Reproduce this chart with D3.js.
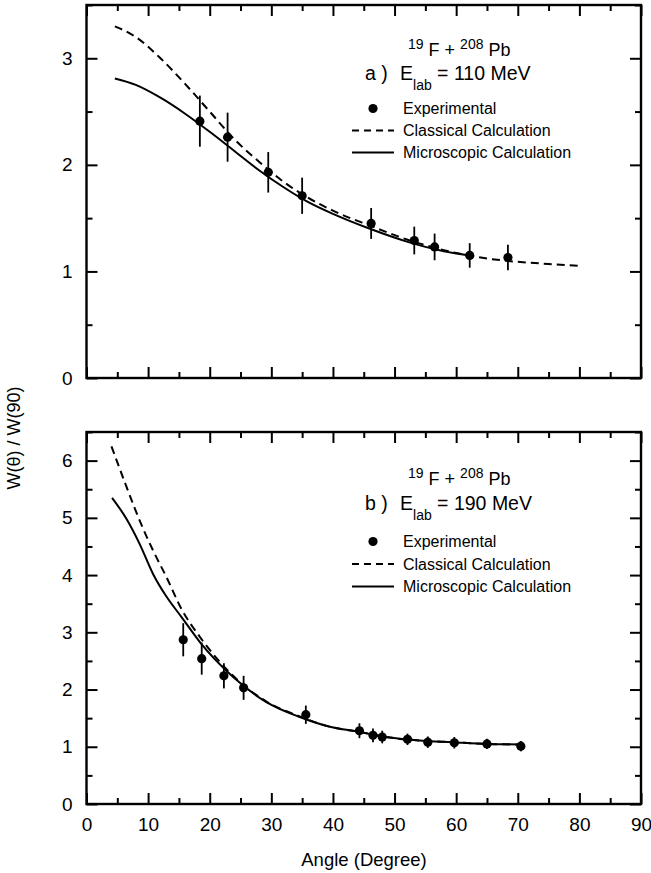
<!DOCTYPE html>
<html>
<head>
<meta charset="utf-8">
<script src="https://cdn.jsdelivr.net/npm/d3@7"></script>
<style>
  body { margin: 0; background: #fff; }
  svg text { font-family: "Liberation Sans", Arial, Helvetica, sans-serif; fill: #000; }
</style>
</head>
<body>
<script>
// panel a) E_lab = 110 MeV
const expA_angle = [18.4, 22.9, 29.5, 35.0, 46.2, 53.2, 56.5, 62.2, 68.4];
const expA_value = [2.41, 2.26, 1.93, 1.71, 1.45, 1.29, 1.23, 1.15, 1.13];
const expA_error = [0.24, 0.23, 0.19, 0.17, 0.145, 0.13, 0.125, 0.115, 0.12];

const classA_angle = [4.6, 8, 12, 16, 20, 24, 28, 32, 36, 40, 46, 52, 58, 64, 70, 75, 80.5];
const classA_value = [3.30, 3.20, 3.00, 2.76, 2.50, 2.24, 2.03, 1.84, 1.69, 1.57, 1.43, 1.30, 1.20, 1.13, 1.09, 1.07, 1.05];

const microA_angle = [4.6, 8, 12, 16, 20, 24, 28, 32, 36, 40, 46, 52, 58, 62.2];
const microA_value = [2.81, 2.75, 2.63, 2.48, 2.31, 2.13, 1.95, 1.79, 1.65, 1.54, 1.40, 1.28, 1.19, 1.15];

// panel b) E_lab = 190 MeV
const expB_angle = [15.7, 18.7, 22.3, 25.5, 35.6, 44.3, 46.5, 48.0, 52.1, 55.4, 59.7, 65.0, 70.5];
const expB_value = [2.87, 2.54, 2.24, 2.03, 1.56, 1.28, 1.20, 1.17, 1.13, 1.08, 1.07, 1.05, 1.01];
const expB_error = [0.29, 0.28, 0.22, 0.21, 0.16, 0.13, 0.12, 0.11, 0.10, 0.10, 0.10, 0.09, 0.09];

const classB_angle = [4.05, 6.5, 8.6, 10.8, 13.0, 15.4, 18.4, 23.8, 29.2, 34.6, 39.5, 44.3, 48.6, 54.0, 59.4, 64.9, 70.5];
const classB_value = [6.25, 5.54, 4.96, 4.43, 3.96, 3.41, 2.92, 2.24, 1.79, 1.53, 1.35, 1.26, 1.17, 1.11, 1.08, 1.05, 1.04];

const microB_angle = [4.15, 6.5, 8.6, 10.8, 13.0, 15.4, 18.4, 23.8, 29.2, 34.6, 39.5, 44.3, 48.6, 54.0, 59.4, 64.9, 70.5];
const microB_value = [5.35, 4.98, 4.55, 4.02, 3.62, 3.27, 2.83, 2.22, 1.78, 1.52, 1.35, 1.26, 1.17, 1.11, 1.08, 1.05, 1.04];

// axis ticks
const xMajor = [0, 10, 20, 30, 40, 50, 60, 70, 80, 90];
const xMinor = [5, 15, 25, 35, 45, 55, 65, 75, 85];
const yMajorA = [0, 1, 2, 3];
const yMinorA = [0.5, 1.5, 2.5, 3.5];
const yMajorB = [0, 1, 2, 3, 4, 5, 6];
const yMinorB = [0.5, 1.5, 2.5, 3.5, 4.5, 5.5, 6.5];

const legendLabels = ["Experimental", "Classical Calculation", "Microscopic Calculation"];

const app = {

  init: () => {
    app.svg = d3.select("body").append("svg")
      .attr("width", 651)
      .attr("height", 873);

    app.x = d3.scaleLinear().domain([0, 90]).range([86.5, 641]);

    app.drawPanel({
      top: 5, bottom: 378, yMax: 3.5,
      yMajor: yMajorA, yMinor: yMinorA, xLabels: false,
      exp: [expA_angle, expA_value, expA_error],
      classical: [classA_angle, classA_value],
      micro: [microA_angle, microA_value],
      tag: "a )", energy: "110",
      titleY: 56, energyY: 80, legendY: 114, rowH: 22
    });

    app.drawPanel({
      top: 432, bottom: 804, yMax: 6.5,
      yMajor: yMajorB, yMinor: yMinorB, xLabels: true,
      exp: [expB_angle, expB_value, expB_error],
      classical: [classB_angle, classB_value],
      micro: [microB_angle, microB_value],
      tag: "b )", energy: "190",
      titleY: 485, energyY: 510, legendY: 547, rowH: 22.5
    });

    // axis titles
    app.svg.append("text")
      .attr("x", 364)
      .attr("y", 866)
      .attr("text-anchor", "middle")
      .style("font-size", "18.5px")
      .text("Angle (Degree)");

    app.svg.append("text")
      .attr("transform", "translate(20,438) rotate(-90)")
      .attr("text-anchor", "middle")
      .style("font-size", "18px")
      .text("W(θ) / W(90)");
  },

  drawPanel: (p) => {
    const x = app.x;
    const y = d3.scaleLinear().domain([0, p.yMax]).range([p.bottom, p.top]);
    const g = app.svg.append("g");
    const left = x(0), right = x(90);

    // ticks on four sides, pointing in
    const addAxis = (axis, tx, ty) => {
      const a = g.append("g")
        .attr("transform", "translate(" + tx + "," + ty + ")")
        .call(axis);
      a.select(".domain").remove();
      a.selectAll("line").attr("stroke", "#000").attr("stroke-width", 2);
      a.selectAll("text").style("font-size", "19px").attr("font-family", null);
      return a;
    };

    addAxis(d3.axisBottom(x).tickValues(xMajor).tickSize(-11).tickPadding(14)
      .tickFormat(p.xLabels ? d3.format("d") : ""), 0, p.bottom);
    addAxis(d3.axisBottom(x).tickValues(xMinor).tickSize(-6).tickFormat(""), 0, p.bottom);
    addAxis(d3.axisTop(x).tickValues(xMajor).tickSize(-11).tickFormat(""), 0, p.top);
    addAxis(d3.axisTop(x).tickValues(xMinor).tickSize(-6).tickFormat(""), 0, p.top);

    addAxis(d3.axisLeft(y).tickValues(p.yMajor).tickSize(-11).tickPadding(14)
      .tickFormat(d3.format("d")), left, 0);
    addAxis(d3.axisLeft(y).tickValues(p.yMinor).tickSize(-6).tickFormat(""), left, 0);
    addAxis(d3.axisRight(y).tickValues(p.yMajor).tickSize(-11).tickFormat(""), right, 0);
    addAxis(d3.axisRight(y).tickValues(p.yMinor).tickSize(-6).tickFormat(""), right, 0);

    // frame
    g.append("rect")
      .attr("x", left)
      .attr("y", p.top)
      .attr("width", right - left)
      .attr("height", p.bottom - p.top)
      .attr("fill", "none")
      .attr("stroke", "#000")
      .attr("stroke-width", 2.4);

    const line = d3.line()
      .x(d => x(d[0]))
      .y(d => y(d[1]))
      .curve(d3.curveMonotoneX);

    g.append("path")
      .datum(d3.zip(p.classical[0], p.classical[1]))
      .attr("d", line)
      .attr("fill", "none")
      .attr("stroke", "#000")
      .attr("stroke-width", 2)
      .attr("stroke-dasharray", "8,5");

    g.append("path")
      .datum(d3.zip(p.micro[0], p.micro[1]))
      .attr("d", line)
      .attr("fill", "none")
      .attr("stroke", "#000")
      .attr("stroke-width", 2);

    const pts = d3.zip(p.exp[0], p.exp[1], p.exp[2]);

    g.selectAll(".err")
      .data(pts)
      .enter()
      .append("line")
      .attr("x1", d => x(d[0]))
      .attr("x2", d => x(d[0]))
      .attr("y1", d => y(d[1] - d[2]))
      .attr("y2", d => y(d[1] + d[2]))
      .attr("stroke", "#000")
      .attr("stroke-width", 1.8);

    g.selectAll(".pt")
      .data(pts)
      .enter()
      .append("circle")
      .attr("cx", d => x(d[0]))
      .attr("cy", d => y(d[1]))
      .attr("r", 4.6)
      .style("fill", "#000");

    // title: 19F + 208Pb
    const t = g.append("text")
      .attr("x", 408)
      .attr("y", p.titleY)
      .style("font-size", "18px");
    t.append("tspan").style("font-size", "14px").attr("dy", -7).text("19");
    t.append("tspan").attr("dy", 7).text(" F + ");
    t.append("tspan").style("font-size", "14px").attr("dy", -7).text("208");
    t.append("tspan").attr("dy", 7).text(" Pb");

    // a) E_lab = ... MeV
    g.append("text")
      .attr("x", 365)
      .attr("y", p.energyY)
      .style("font-size", "19.5px")
      .text(p.tag);
    const e = g.append("text")
      .attr("x", 400)
      .attr("y", p.energyY)
      .style("font-size", "19.5px");
    e.append("tspan").text("E");
    e.append("tspan").style("font-size", "14px").attr("dy", 10).text("lab");
    e.append("tspan").attr("dy", -10).text(" = " + p.energy + " MeV");

    // legend
    legendLabels.forEach((label, i) => {
      const ly = p.legendY + i * p.rowH;
      if (i === 0) {
        g.append("circle")
          .attr("cx", 373)
          .attr("cy", ly - 5.5)
          .attr("r", 4.6)
          .style("fill", "#000");
      } else {
        g.append("line")
          .attr("x1", 352)
          .attr("x2", 394)
          .attr("y1", ly - 5.5)
          .attr("y2", ly - 5.5)
          .attr("stroke", "#000")
          .attr("stroke-width", 2)
          .attr("stroke-dasharray", i === 1 ? "7,5" : null);
      }
      g.append("text")
        .attr("x", 403)
        .attr("y", ly)
        .style("font-size", "16px")
        .text(label);
    });
  }

}

app.init();
</script>
</body>
</html>
